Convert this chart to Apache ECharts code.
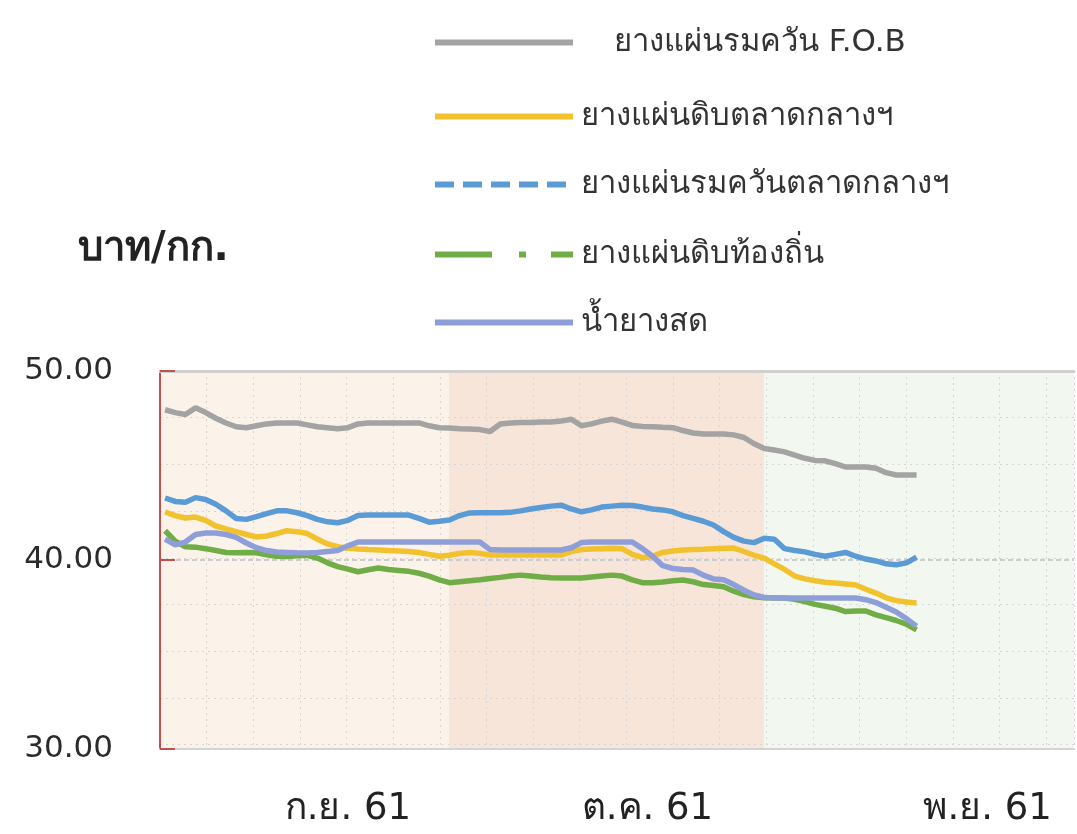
<!DOCTYPE html>
<html>
<head>
<meta charset="utf-8">
<script src="https://cdn.jsdelivr.net/npm/echarts@6/dist/echarts.min.js"></script>
<style>
html,body{margin:0;padding:0;background:#ffffff;overflow:hidden;}
#chart{width:1077px;height:834px;}
</style>
</head>
<body>
<div id="chart"></div>
<script>
// ---- data (one value per day, starting 1 Sep 2018 / ก.ย. 61) ----
const seriesNames = ['ยางแผ่นรมควัน F.O.B', 'ยางแผ่นดิบตลาดกลางฯ', 'ยางแผ่นรมควันตลาดกลางฯ', 'ยางแผ่นดิบท้องถิ่น', 'น้ำยางสด'];

const rssFob = [47.95,47.8,47.7,48.05,47.8,47.5,47.25,47.05,47.0,47.1,
  47.2,47.25,47.25,47.25,47.15,47.05,47.0,46.95,47.0,47.2,
  47.25,47.25,47.25,47.25,47.25,47.25,47.1,47.0,46.98,46.95,
  46.93,46.9,46.8,47.2,47.25,47.28,47.28,47.3,47.3,47.35,
  47.45,47.1,47.2,47.35,47.45,47.3,47.12,47.07,47.05,47.02,
  47.0,46.85,46.72,46.67,46.67,46.67,46.62,46.48,46.15,45.9,
  45.82,45.72,45.55,45.38,45.27,45.25,45.1,44.92,44.92,44.92,
  44.85,44.62,44.5,44.5,44.5];

const ussCentral = [42.54,42.35,42.22,42.27,42.1,41.8,41.65,41.5,41.35,41.22,
  41.27,41.4,41.55,41.5,41.4,41.1,40.85,40.7,40.62,40.58,
  40.55,40.53,40.5,40.48,40.45,40.4,40.3,40.2,40.25,40.35,
  40.4,40.35,40.26,40.26,40.26,40.26,40.26,40.26,40.26,40.26,
  40.45,40.55,40.58,40.6,40.62,40.6,40.3,40.12,40.2,40.4,
  40.48,40.53,40.55,40.57,40.6,40.62,40.63,40.45,40.25,40.1,
  39.8,39.5,39.15,39.0,38.9,38.82,38.78,38.73,38.68,38.45,
  38.25,38.0,37.85,37.78,37.73];

const rssCentral = [43.28,43.1,43.05,43.3,43.2,42.95,42.6,42.2,42.15,42.3,
  42.45,42.6,42.6,42.5,42.35,42.15,42.02,41.97,42.1,42.35,
  42.38,42.38,42.38,42.38,42.38,42.2,42.0,42.05,42.12,42.35,
  42.49,42.5,42.5,42.5,42.52,42.6,42.7,42.78,42.85,42.9,
  42.7,42.55,42.65,42.8,42.85,42.9,42.88,42.8,42.7,42.65,
  42.55,42.35,42.2,42.05,41.85,41.5,41.2,41.0,40.92,41.15,
  41.1,40.6,40.5,40.43,40.3,40.2,40.3,40.4,40.2,40.05,
  39.95,39.8,39.75,39.85,40.15];

const ussLocal = [41.55,41.0,40.7,40.68,40.6,40.5,40.4,40.38,40.4,40.38,
  40.28,40.2,40.18,40.22,40.25,40.1,39.85,39.65,39.52,39.38,
  39.48,39.58,39.5,39.45,39.4,39.3,39.15,38.95,38.8,38.85,
  38.9,38.95,39.02,39.08,39.15,39.2,39.15,39.1,39.06,39.05,
  39.05,39.05,39.1,39.15,39.2,39.15,38.95,38.8,38.8,38.84,
  38.9,38.94,38.85,38.7,38.65,38.58,38.35,38.17,38.05,38.0,
  37.99,37.99,37.92,37.8,37.65,37.55,37.45,37.27,37.3,37.3,
  37.1,36.95,36.8,36.6,36.3];

const freshLatex = [41.1,40.8,40.95,41.35,41.43,41.43,41.35,41.2,40.9,40.65,
  40.5,40.42,40.4,40.38,40.37,40.4,40.45,40.5,40.75,40.95,
  40.95,40.95,40.95,40.95,40.95,40.95,40.95,40.95,40.95,40.95,
  40.95,40.95,40.55,40.53,40.53,40.53,40.53,40.53,40.53,40.53,
  40.65,40.92,40.95,40.95,40.95,40.95,40.95,40.6,40.2,39.7,
  39.55,39.5,39.47,39.2,39.0,38.95,38.7,38.4,38.15,38.02,
  38.0,37.99,37.99,37.99,37.99,37.99,37.99,37.99,37.99,37.9,
  37.75,37.5,37.25,36.9,36.5];

const monthLabels = ['ก.ย. 61', 'ต.ค. 61', 'พ.ย. 61'];
const monthLabelDay = [18, 47.5, 81];
const monthBandDays = [[-0.5, 27.96], [27.96, 58.97], [58.97, 89.5]];
const yLabelDecimals = 2;

// ---- styles ----
const FONT = '"DejaVu Sans", "Noto Sans", sans-serif';
const colors = ['#a3a3a3', '#f2c12e', '#5b9bd5', '#70ad47', '#8d9ed9'];
const bandColors = ['#fbf3e9', '#f6e5d8', '#f2f8f0'];
const legendDash = ['solid', 'solid', [19, 9], [57, 27, 7, 25, 24, 200], 'solid'];
const legendRowY = [41, 115, 183, 253, 321];
const legendTextPad = [36, 3, 3, 3, 3];

const valueSets = [rssFob, ussCentral, rssCentral, ussLocal, freshLatex];

const chart = echarts.init(document.getElementById('chart'), null, {renderer: 'canvas'});

const lineSeries = valueSets.map((vals, k) => ({
  name: seriesNames[k],
  type: 'line',
  data: vals.map((v, i) => [i, v]),
  symbol: 'none',
  showSymbol: false,
  lineStyle: {width: 5.5, color: colors[k]},
  itemStyle: {color: colors[k]},
  z: 3,
  animation: false
}));

const bandSeries = {
  type: 'line',
  data: [],
  z: 0,
  silent: true,
  animation: false,
  markArea: {
    silent: true,
    z: 0,
    data: monthBandDays.map((b, k) => [
      {xAxis: b[0], itemStyle: {color: bandColors[k]}},
      {xAxis: b[1]}
    ])
  }
};

const legends = seriesNames.map((n, k) => ({
  data: [{
    name: n,
    itemStyle: {opacity: 0},
    lineStyle: {type: legendDash[k], width: 6, color: colors[k], opacity: 1}
  }],
  left: 432,
  top: legendRowY[k] - 14,
  padding: 0,
  itemWidth: 138,
  itemHeight: 14,
  selectedMode: false,
  textStyle: {fontSize: 31, color: '#333333', fontFamily: FONT, padding: [0, 0, 0, legendTextPad[k]]}
}));

chart.setOption({
  animation: false,
  backgroundColor: '#ffffff',
  title: {
    text: 'บาท/กก.',
    left: 78,
    top: 230,
    padding: 0,
    textStyle: {fontSize: 40, fontWeight: 'bold', color: '#222222', fontFamily: FONT}
  },
  legend: legends,
  grid: {left: 160, right: 0, top: 371, bottom: 85, containLabel: false},
  xAxis: [
    {
      type: 'value', min: -0.5, max: 89.5, interval: 0.5, z: 2, position: 'bottom',
      axisLine: {show: true, onZero: false, lineStyle: {color: '#d4d4d4', width: 2}},
      axisTick: {show: false},
      splitLine: {show: false},
      axisLabel: {
        margin: 42, fontSize: 37, color: '#222222', fontFamily: FONT,
        formatter: v => {
          const k = monthLabelDay.findIndex(d => Math.abs(d - v) < 0.01);
          return k >= 0 ? monthLabels[k] : '';
        }
      }
    },
    {
      type: 'value', min: 0, max: 19.6, interval: 1, position: 'top', z: 2,
      axisLine: {show: true, onZero: false, lineStyle: {color: '#d0d0d0', width: 3}},
      axisTick: {show: false}, axisLabel: {show: false},
      splitLine: {show: true, lineStyle: {color: '#d6d6d6', width: 1, type: [2, 4]}}
    }
  ],
  yAxis: [
    {
      type: 'value', min: 30, max: 50, interval: 10, position: 'left', z: 2,
      axisLine: {show: true, onZero: false, lineStyle: {color: '#c0504d', width: 2}},
      axisTick: {show: true, inside: true, length: 15, lineStyle: {color: '#c0504d', width: 2}},
      axisLabel: {
        margin: 47, fontSize: 31, color: '#2b2b2b', fontFamily: FONT,
        formatter: v => v.toFixed(yLabelDecimals)
      },
      splitLine: {show: true, lineStyle: {color: ['rgba(0,0,0,0)', '#cdcdcd', 'rgba(0,0,0,0)'], width: 2, type: [5, 3]}}
    },
    {
      type: 'value', inverse: true, min: 0, max: 8.094, interval: 1, position: 'right', z: 2,
      axisLine: {show: false}, axisTick: {show: false}, axisLabel: {show: false},
      splitLine: {show: true, lineStyle: {color: '#d6d6d6', width: 1, type: [2, 4]}}
    }
  ],
  series: [bandSeries].concat(lineSeries)
});
</script>
</body>
</html>
